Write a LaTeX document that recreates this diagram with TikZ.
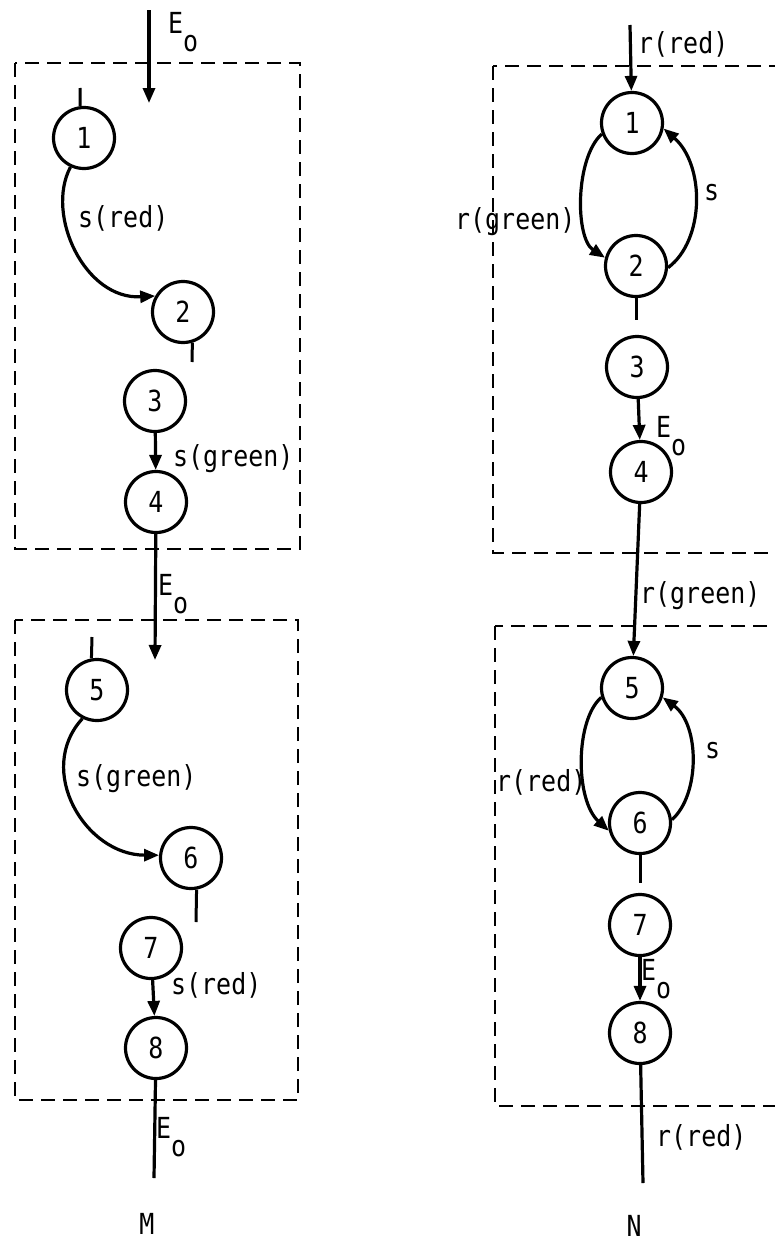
\documentclass[tikz,border=0pt]{standalone}
\usepackage{fontspec}
\setmainfont{DejaVu Sans Mono}[FakeStretch=0.86]
\usetikzlibrary{arrows.meta}
\newcommand\EsubO{E\raisebox{-18pt}{o}}
\begin{document}
\begin{tikzpicture}[x=1pt,y=-1pt,
 st/.style={circle,draw,line width=3.2pt,minimum size=61pt,inner sep=0pt,font=\fontsize{29}{34}\selectfont},
 lbl/.style={anchor=base west,inner sep=0pt,font=\fontsize{29}{34}\selectfont},
 titlelbl/.style={anchor=base,inner sep=0pt,font=\fontsize{29}{34}\selectfont},
 arr/.style={line width=3.2pt,-{Triangle[length=15pt,width=12pt]}},
 ln/.style={line width=3.2pt},
 box/.style={line width=2.8pt,dash pattern=on 14pt off 8pt},
 tick/.style={line width=3pt}]
\useasboundingbox (0,0) rectangle (774,1242);
% boxes
\draw[box] (15,63) rectangle (300,549);
\draw[box] (15,620) rectangle (298,1100);
\draw[box] (493,66) rectangle (800,553);
\draw[box] (495,626) rectangle (800,1106);
% left nodes
\node[st] (l1) at (84,138) {1};
\node[st] (l2) at (183,312) {2};
\node[st] (l3) at (155,401) {3};
\node[st] (l4) at (156,502) {4};
\node[st] (l5) at (97,690) {5};
\node[st] (l6) at (191,858) {6};
\node[st] (l7) at (151,948) {7};
\node[st] (l8) at (156,1048) {8};
% right nodes
\node[st] (r1) at (632,123) {1};
\node[st] (r2) at (636,266) {2};
\node[st] (r3) at (637,367) {3};
\node[st] (r4) at (641,472) {4};
\node[st] (r5) at (632,688) {5};
\node[st] (r6) at (640,823) {6};
\node[st] (r7) at (640,925) {7};
\node[st] (r8) at (640,1033) {8};
% free ends
\coordinate (ltop) at (149,10);
\coordinate (lhead) at (149,103);
\coordinate (lmid) at (155,660);
\coordinate (lend) at (154,1178);
\coordinate (rtop) at (630,25);
\coordinate (rend) at (643,1183);
\coordinate (t1) at (80,88);
\coordinate (t2) at (192,362);
\coordinate (t5) at (92,637);
\coordinate (t6) at (196,922);
\coordinate (u2) at (636,320);
\coordinate (u6) at (640,883);
% left connectors
\draw[arr] (ltop) -- (lhead);
\draw[tick] (l1.97) -- (t1);
\draw[arr] (l1.-115) .. controls (45,215) and (85,300) .. (l2.150);
\draw[tick] (l2.-73) -- (t2);
\draw[arr] (l3) -- (l4);
\draw[arr] (l4) -- (lmid);
\draw[tick] (l5.100) -- (t5);
\draw[arr] (l5.-117) .. controls (35,770) and (85,855) .. (l6.175);
\draw[tick] (l6.-80) -- (t6);
\draw[arr] (l7) -- (l8);
\draw[ln] (l8) -- (lend);
% right connectors
\draw[arr] (rtop) -- (r1);
\draw[arr] (r1.-160) .. controls (575,158) and (575,238) .. (r2.165);
\draw[arr] (r2.-3) .. controls (705,240) and (705,165) .. (r1.-10);
\draw[tick] (r2.-90) -- (u2);
\draw[arr] (r3) -- (r4);
\draw[arr] (r4) -- (r5);
\draw[arr] (r5.-163) .. controls (575,720) and (575,800) .. (r6.-166);
\draw[arr] (r6.6) .. controls (700,795) and (700,725) .. (r5.-17);
\draw[tick] (r6.-90) -- (u6);
\draw[arr] (r7) -- (r8);
\draw[ln] (r8) -- (rend);
% left labels
\node[lbl] (a1) at (168,33) {\EsubO};
\node[lbl] (a2) at (78,227) {s(red)};
\node[lbl] (a3) at (173,466) {s(green)};
\node[lbl] (a4) at (158,595) {\EsubO};
\node[lbl] (a5) at (76,786) {s(green)};
\node[lbl] (a6) at (171,994) {s(red)};
\node[lbl] (a7) at (156,1138) {\EsubO};
\node[titlelbl] (mm) at (147,1234) {M};
% right labels
\node[lbl] (b1) at (638,53) {r(red)};
\node[lbl] (b2) at (455,229) {r(green)};
\node[lbl] (b3) at (704,200) {s};
\node[lbl] (b4) at (656,437) {\EsubO};
\node[lbl] (b5) at (640,603) {r(green)};
\node[lbl] (b6) at (705,758) {s};
\node[lbl] (b7) at (496,791) {r(red)};
\node[lbl] (b8) at (641,980) {\EsubO};
\node[lbl] (b9) at (656,1146) {r(red)};
\node[titlelbl] (nn) at (634,1236) {N};
\end{tikzpicture}
\end{document}
